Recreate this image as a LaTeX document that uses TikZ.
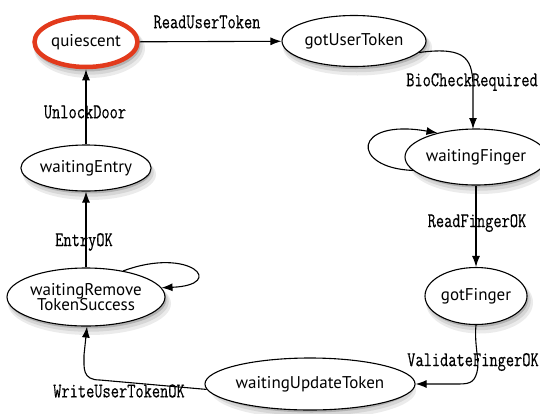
\documentclass[tikz,border=0pt]{standalone}
\usepackage{fontspec}
\setsansfont{PT Sans}
\setmonofont{Latin Modern Mono}[FakeStretch=0.76, FakeBold=0.4]
\usetikzlibrary{arrows.meta,shapes.geometric}
\definecolor{startred}{HTML}{E23A1C}
\definecolor{shadeA}{gray}{0.92}
\definecolor{shadeB}{gray}{0.84}
\definecolor{shadeC}{gray}{0.70}
\begin{document}
\begin{tikzpicture}[x=1pt,y=-1pt,
  state/.style={ellipse, draw=black, line width=1.1pt, fill=white, inner sep=0pt,
    align=center, font=\sffamily\fontsize{17}{17.5}\selectfont},
  shadowA/.style={ellipse, fill=shadeA, draw=none, inner sep=0pt},
  shadowB/.style={ellipse, fill=shadeB, draw=none, inner sep=0pt},
  shadowC/.style={ellipse, fill=shadeC, draw=none, inner sep=0pt},
  initial/.style={draw=startred, line width=4.5pt},
  arr/.style={line width=1.1pt, -{Latex[length=11pt,width=8pt]}},
  lbl/.style={font=\ttfamily\fontsize{21}{21}\selectfont, inner sep=0pt}]
\useasboundingbox (0,0) rectangle (540,413);

% soft shadows behind the states: three stacked grey ellipses each
\foreach \n/\cx/\cy/\w/\h in {q/86/42/106/54, gut/354/41/144/51, wf/476/157/136/56,
    gf/476/296/102/57, wut/310/384/200/52, wrts/86/297/158/58, we/86/168/128/46}{
  \node[shadowA, minimum width=\w pt+5pt, minimum height=\h pt+5pt] (\n-sa) at (\cx+3.5,\cy+6.5) {};
  \node[shadowB, minimum width=\w pt+2.5pt, minimum height=\h pt+2.5pt] (\n-sb) at (\cx+2.5,\cy+4.5) {};
  \node[shadowC, minimum width=\w pt, minimum height=\h pt] (\n-sc) at (\cx+1.5,\cy+2.5) {};
}

% states
\node[state, initial, minimum width=103pt, minimum height=50pt] (q) at (86,42) {quiescent};
\node[state, minimum width=144pt, minimum height=51pt] (gut) at (354,41) {gotUserToken};
\node[state, minimum width=136pt, minimum height=56pt] (wf) at (476,157) {waitingFinger};
\node[state, minimum width=102pt, minimum height=57pt] (gf) at (476,296) {gotFinger};
\node[state, minimum width=200pt, minimum height=52pt] (wut) at (310,384) {waitingUpdateToken};
\node[state, minimum width=158pt, minimum height=58pt] (wrts) at (86,297) {waitingRemove\\[-2pt]TokenSuccess};
\node[state, minimum width=128pt, minimum height=46pt] (we) at (86,168) {waitingEntry};

% transitions
\draw[arr] (q) -- (gut);
\node[lbl] (l1) at (207,22) {ReadUserToken};

\draw[arr] (gut.-10) .. controls (468,46) and (473,60) .. (473,90) -- (473,129);
\node[lbl] (l2) at (472,82) {BioCheckRequired};

\draw[arr] (wf.192) .. controls (350,168) and (352,118) .. (wf.148);

\draw[arr] (wf.south -| gf.north) -- (gf.north);
\node[lbl] (l3) at (477,223) {ReadFingerOK};

\draw[arr] (gf.south) .. controls (474,345) and (480,362) .. (477,372)
  .. controls (474,384) and (468,384) .. (455,384) -- (wut.east);
\node[lbl] (l4) at (473,362) {ValidateFingerOK};

\draw[arr] (wut.183) -- (100,380) .. controls (82,380) and (84,368) .. (84,355) -- (wrts.south -| 87,0);
\node[lbl] (l5) at (119,391) {WriteUserTokenOK};

\draw[arr] (wrts.35) .. controls (190,246) and (228,285) .. (wrts.7);

\draw[arr] (wrts.north) -- (we.south);
\node[lbl] (l6) at (84,242) {EntryOK};

\draw[arr] (we.north) -- (q.south);
\node[lbl] (l7) at (85,112) {UnlockDoor};
\end{tikzpicture}
\end{document}
